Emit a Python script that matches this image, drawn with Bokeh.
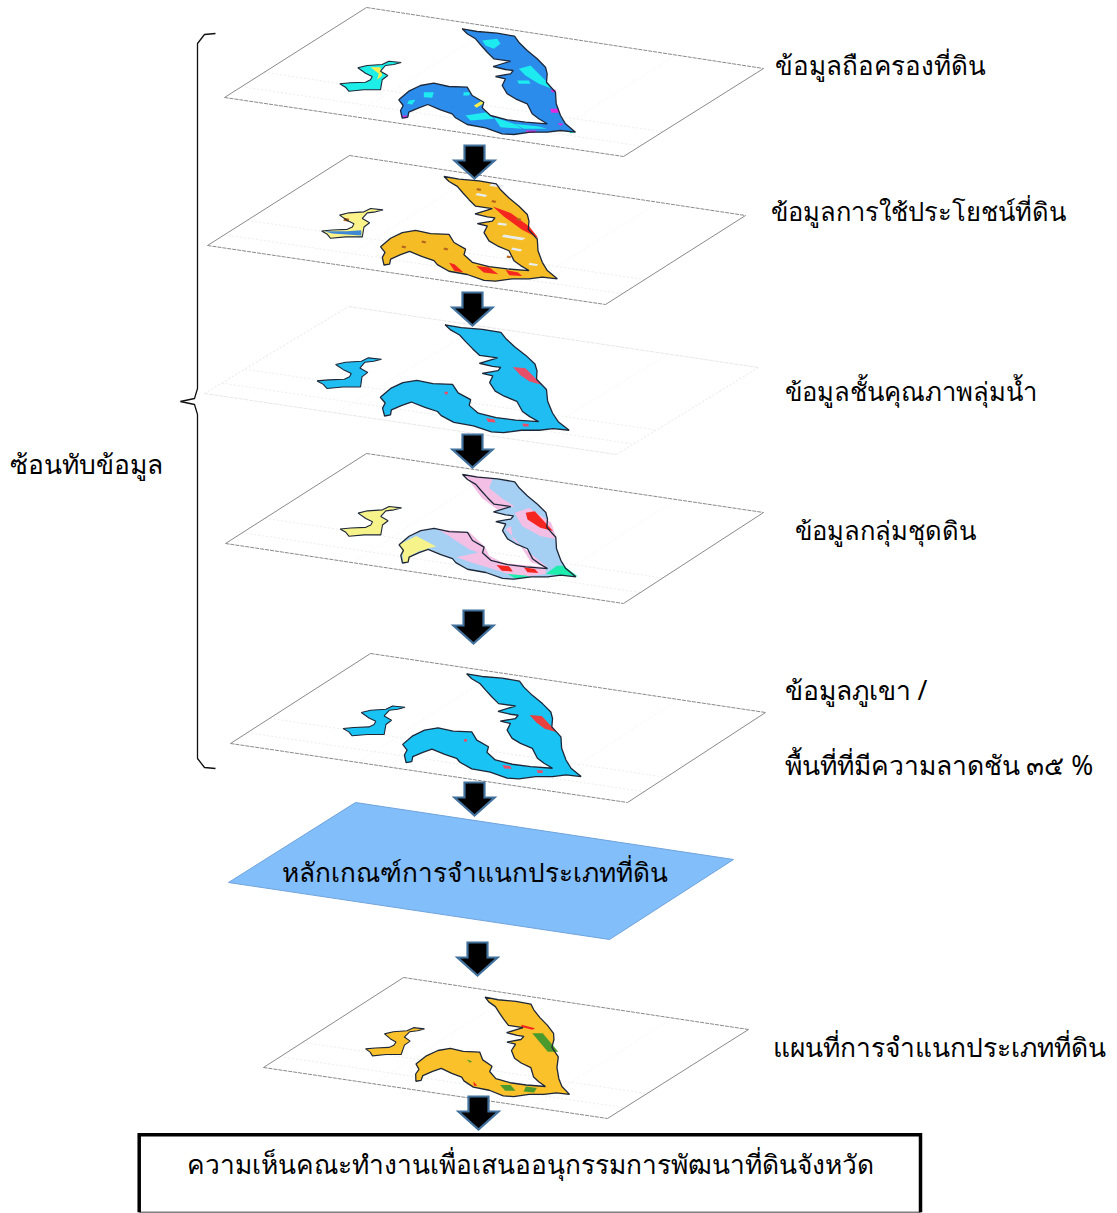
from bokeh.plotting import figure
from bokeh.models import Range1d
from bokeh.core.properties import value
from bokeh.embed import file_html
from bokeh.resources import INLINE

# ---- texts
label_text = ["ข้อมูลถือครองที่ดิน", "ข้อมูลการใช้ประโยชน์ที่ดิน", "ข้อมูลชั้นคุณภาพลุ่มน้ำ", "ข้อมูลกลุ่มชุดดิน",
              "ข้อมูลภูเขา /", "พื้นที่ที่มีความลาดชัน ๓๕ %", "หลักเกณฑ์การจำแนกประเภทที่ดิน",
              "แผนที่การจำแนกประเภทที่ดิน", "ความเห็นคณะทำงานเพื่อเสนออนุกรรมการพัฒนาที่ดินจังหวัด", "ซ้อนทับข้อมูล"]
label_x = [774, 770, 784, 794, 784, 784, 281, 772, 186, 9]
label_y = [64, 210, 391, 530, 689, 764, 871, 1046, 1163, 463]
label_px = [26.0, 25.5, 25.6, 25.6, 26.5, 26.5, 26.2, 26.4, 26.3, 26.4]

# ---- map outline
main_x = [461.7,476.7,496.7,514,518.3,526.7,536.7,545,546.7,546,555,555.7,560,565,575,560,546.7,530,513.3,501.7,485,466.7,455,451.7,440,427.3,418.3,408.3,407.3,401.7,400,402.7,398.3,408.3,420,433.3,448.3,466.7,471.7,483.3,481.7,490,506.7,525,546.7,538.3,531.7,526.7,515,506.7,501.7,505,495,510,512.7,505,492.7,510,493.3,486.7,480.7,475,466.7]
main_y = [28.3,31,32.7,35.7,41.7,50,58.3,66.7,73.3,81.7,91.7,103.3,115,123.3,131.7,130,131.7,131.7,134,133.3,127.3,124,117.3,113.3,109.3,104,107.3,111.7,116.7,117.7,110,105,99.3,90.7,85,82.7,86,86.7,95,101.7,107.3,115,119.3,121.7,123.3,118.3,113.3,103.3,98.3,93.3,85,78.3,76,73.3,70,69,66,60.7,58.3,51.7,45,38.3,33.3]
isle_x = [339.3,350,365,370,371.7,365,357.3,366.7,381.7,388.3,400.7,393.3,385,380,387.3,381.7,380,363.3,348.3,345]
isle_y = [83.3,82.3,81.7,79.3,76,72.7,67.3,65,64,60.7,62,64,65,70.7,75,79.3,89.3,89.3,90.7,86.7]

# ---- sheets: corner top, right, bottom, left
sheet_x = [[366,763,623,224],[349,745,605,207],[348,758,616,204],[366,763,623,225],[370,765,627,230],[403,748,607,263]]
sheet_y = [[7,68,156,97],[155,215,304,245],[306,367,454,393],[453,512,603,543],[653,712,802,743],[977,1029,1118,1067]]
sheet_edge = ["#8a8a8a","#8a8a8a","#e8e8e8","#8a8a8a","#8a8a8a","#8a8a8a"]
grid_u = [0.32, 0.78]
grid_v = [0.72, 0.88]

# ---- per-sheet map placement: origin x, origin y, x scale, y scale, shear
map_ox = [461.7, 443.5, 444.6, 462, 466.2, 484.6]
map_oy = [28.3, 176, 324.3, 474, 673.3, 996.7]
map_sx = [1, 1, 1.062, 1, 1.01, 0.9]
map_sy = [1, 0.99, 1.02, 0.99, 0.994, 0.94]
map_k = [0, 0, 0.036, 0, 0, -0.17]
main_fill = ["#2B8CEB", "#F5BC25", "#1FBDF2", "#A5CFF3", "#19C4F5", "#FBC12A"]
isle_fill = ["#1DEFE8", "#FBF38A", "#1FBDF2", "#F6F38A", "#19C4F5", "#FBC12A"]

# ---- land-class patches per sheet: (colour, xs, ys)
cyan, magenta, yellow = "#1DEBF0", "#E22BE0", "#F6EE50"
red, white, pink = "#F5261F", "#E8EEF0", "#F3BFE4"
rosy = "#E8506A"
green = "#4B9A2E"
aqua = "#1EEDAE"
blue2 = "#3F88D4"
brown = "#B5651D"
classes = [
 [(cyan,[481.7,496.7,500,493.3,485],[40,38.3,43.3,48.3,45]),
  (cyan,[518.3,530,546.7,551.7,538.3,525],[68.3,65,81.7,88.3,83.3,75]),
  (cyan,[516.7,528.3,530,518.3],[80,80,83.3,83.3]),
  (cyan,[423.3,433.3,431.7,423.3],[91.7,91.7,97.3,96.7]),
  (cyan,[408.3,415,411.7,406.7],[100,99.3,104,103.3]),
  (cyan,[463.3,470,468.3,462.7],[91.7,91.7,95,95]),
  (cyan,[465,486.7,493.3,470],[115,111.7,118.3,120]),
  (cyan,[493.3,513.3,521.7,500],[116.7,123.3,128.3,126.7]),
  (cyan,[513.3,538.3,546.7,523.3],[123.3,126,128.3,128.3]),
  (magenta,[550,558.3,558.3,550.7],[108.3,108.3,112.3,112.3]),
  (magenta,[550,555,555,551.7],[89.3,89.3,91.7,91.7]),
  (magenta,[525,536.7,533.3,526.7],[130,130,132.3,132.3]),
  (magenta,[401.7,407.3,406,402.7],[115,115,117.7,117.7]),
  (magenta,[556.7,563.3,560],[122.7,123.3,125.3]),
  (aqua,[566.7,575,570],[130,131.7,132.7]),
  (yellow,[473.3,481.7,483.3,476],[105,100,102.7,107.3]),
  (yellow,[370,380,381.7,376.7,378.3],[66.7,66.7,75,79.3,73.3])],
 [(red,[510.5,528.7,547,556,539.7,521.5],[58.7,65.3,78.7,90.3,82,68.7]),
  (red,[466.7,472.2,481.3,472.2],[115.3,117,125.3,123.7]),
  (red,[494,507,516,501.4],[118.7,120.3,127,125.3]),
  (red,[523.3,536,539.7,527],[122.7,125.3,128.7,128]),
  (white,[521.5,543.4,539.7,519.6],[87,90.3,92.7,89.3]),
  (white,[508.7,521.5,519.6,507],[35.3,37,39.3,38]),
  (white,[516,525,523.3,515],[74.7,76,78,77]),
  (white,[547,556,554.3,546.3],[115.3,117,118.7,117.7]),
  (white,[495,505,503,493],[45,47,49,47]),
  (white,[530,540,538,529],[100,102,104,102]),
  (brown,[495,499,498,494],[40,41,43,42]),
  (brown,[510,514,513,509],[52,53,55,54]),
  (brown,[535,539,538,534],[70,71,73,72]),
  (brown,[525,529,528,524],[108,109,111,110]),
  (brown,[440,444,443,439],[93,94,96,95]),
  (brown,[462,466,465,461],[100,101,103,102]),
  (brown,[420,424,423,419],[98,99,101,100]),
  (brown,[362,367,366,361],[70,71,74,73]),
  (blue2,[341.9,364.5,379,379,350],[83.7,83.7,82.7,88,86])],
 [(rosy,[524,536,551,539,530.7],[69.7,70.8,87.2,83.7,77.4]),
  (rosy,[459,462,462,459],[94,94,96.5,96.5]),
  (rosy,[497,505,506,499],[120,121,124,123.5]),
  (rosy,[531,537,537,532],[125,125.5,128,128])],
 [(pink,[462,492,488.4,503,513.9,496.4,481,470],[27.7,32,42,53.7,60.3,63.7,52,37]),
  (pink,[513.9,528.5,550.4,555.9,539.5,521.2],[67,62,77,93.7,90.3,80.4]),
  (pink,[437,468.3,484,488.4,503,545,545,517.6,492,470,455.5,477.4,468.3,448],[83.7,86.4,101,110.4,117.7,122,128.7,132,123.7,117,112,107,103.7,90.4]),
  (pink,[504.8,510.3,512,528.5,546.8,530.3,517.6],[83.7,80.4,93.7,107,122,117,97]),
  (red,[524.9,534,552.2,539.5,526.7],[67,65.3,85.4,82,73.7]),
  (red,[495.7,508.4,512,501],[119.7,121,126.4,125.4]),
  (red,[523,534,537.6,526.7],[122,123.7,127.7,127]),
  (aqua,[545,555.9,563,577,565],[128.7,120.4,120.4,131.4,130.4]),
  (aqua,[506.6,524.9,530.3,513.9],[128.7,130.4,132,133]),
  ("#F6F38A",[399,415.4,435.4,426.3,444.6,428,419,410,408,402.6,401.5],[98.7,90.4,101,103,110.4,104.4,105.4,110.4,117,117,107])],
 [("#E8413F",[524,536,551,539,530.7],[69.7,70.8,87.2,83.7,77.4]),
  (rosy,[459,462,462,459],[94,94,96.5,96.5]),
  (rosy,[497,505,506,499],[120,121,124,123.5]),
  (rosy,[531,537,537,532],[125,125.5,128,128])],
 [(green,[521.3,533,554,542.3],[66.7,66.7,86.2,86.2]),
  (green,[495.9,507.6,514.3,502.8],[121.7,121.7,127.7,127.7]),
  (green,[525,537.4,535.3,523.4],[123.4,125,129.7,128.7]),
  (green,[454,460,458],[94.5,96.5,98]),
  (red,[507.8,523.4,521,508],[57.7,61.4,62.8,60]),
  (red,[465.7,470.8,467],[118.1,122.4,122.4])],
]

# ---- the blue sheet, the down arrows, the box and the brace
crit_x = [355, 733, 609, 228]
crit_y = [802, 859, 939, 882]
arrow_x = [474, 472, 472, 473, 474, 477, 478]
arrow_top = [145, 292, 434, 610, 782, 942, 1096]
box_x = [138.7, 920]
box_y = [1134.3, 1211.7]
brace_up_x = [215, 204, 197, 197, 194, 180]
brace_up_y = [33, 34, 43, 388, 398, 401]
brace_dn_x = [180, 194, 197, 197, 204, 215]
brace_dn_y = [401, 404, 414, 758, 767, 768]

p = figure(width=1117, height=1213, x_range=Range1d(0, 1117), y_range=Range1d(1213, 0),
           output_backend="svg", toolbar_location=None, min_border=0,
           outline_line_color=None, background_fill_color="white")
p.xaxis.visible = False
p.yaxis.visible = False
p.grid.visible = False


def place(i, xs, ys):
    out_x = [map_ox[i] + map_sx[i] * (x - main_x[0]) + map_k[i] * (y - main_y[0]) for x, y in zip(xs, ys)]
    out_y = [map_oy[i] + map_sy[i] * (y - main_y[0]) for y in ys]
    return out_x, out_y


for i in range(6):
    sx, sy = sheet_x[i], sheet_y[i]
    # faint inner lines
    for v in grid_v:
        a = (sx[3] + (sx[0] - sx[3]) * (1 - v), sy[3] + (sy[0] - sy[3]) * (1 - v))
        b = (sx[2] + (sx[1] - sx[2]) * (1 - v), sy[2] + (sy[1] - sy[2]) * (1 - v))
        p.line([a[0], b[0]], [a[1], b[1]], line_color="#e8e8e8", line_width=0.8, line_dash="2 2")
    for u in grid_u:
        a = (sx[0] + (sx[1] - sx[0]) * u, sy[0] + (sy[1] - sy[0]) * u)
        b = (sx[3] + (sx[2] - sx[3]) * u, sy[3] + (sy[2] - sy[3]) * u)
        p.line([a[0], b[0]], [a[1], b[1]], line_color="#eeeeee", line_width=0.8, line_dash="1 2")
    # sides solid, long edges dashed
    p.line([sx[3], sx[0]], [sy[3], sy[0]], line_color=sheet_edge[i], line_width=1, line_dash="solid" if i != 2 else "2 2")
    p.line([sx[1], sx[2]], [sy[1], sy[2]], line_color=sheet_edge[i], line_width=1, line_dash="solid" if i != 2 else "2 2")
    p.line([sx[0], sx[1]], [sy[0], sy[1]], line_color=sheet_edge[i], line_width=1, line_dash="4 1")
    p.line([sx[3], sx[2]], [sy[3], sy[2]], line_color=sheet_edge[i], line_width=1, line_dash="4 1")
    # map
    mx, my = place(i, main_x, main_y)
    ix, iy = place(i, isle_x, isle_y)
    p.patch(mx, my, fill_color=main_fill[i], line_color=None)
    p.patch(ix, iy, fill_color=isle_fill[i], line_color=None)
    for colour, xs, ys in classes[i]:
        cx, cy = place(i, xs, ys)
        p.patch(cx, cy, fill_color=colour, line_color=None)
    p.patch(mx, my, fill_color=None, line_color="#1d2738", line_width=1.3)
    p.patch(ix, iy, fill_color=None, line_color="#1d2738", line_width=1.1)

p.patch(crit_x, crit_y, fill_color="#82BEFA", line_color="#6fa3dc", line_width=1)

for ax, at in zip(arrow_x, arrow_top):
    p.patch([ax - 10, ax + 10, ax + 10, ax + 20, ax, ax - 20, ax - 10],
            [at, at, at + 15, at + 15, at + 33, at + 15, at + 15],
            fill_color="black", line_color="#41719C", line_width=2.2, line_join="miter")

p.line([box_x[0], box_x[1]], [box_y[1], box_y[1]], line_color="#808080", line_width=1.5)
p.line([box_x[0], box_x[0], box_x[1], box_x[1]], [box_y[1], box_y[0], box_y[0], box_y[1]],
       line_color="black", line_width=3.5, line_join="miter")
p.line(brace_up_x, brace_up_y, line_color="#111111", line_width=1.3)
p.line(brace_dn_x, brace_dn_y, line_color="#111111", line_width=1.3)

for x, y, t, s in zip(label_x, label_y, label_text, label_px):
    p.text([x], [y], text=[t], text_font=value("Noto Sans"), text_font_size=f"{s}px",
           text_color="black", text_align="left", text_baseline="middle")

open("out.html", "w").write(file_html(p, INLINE))
